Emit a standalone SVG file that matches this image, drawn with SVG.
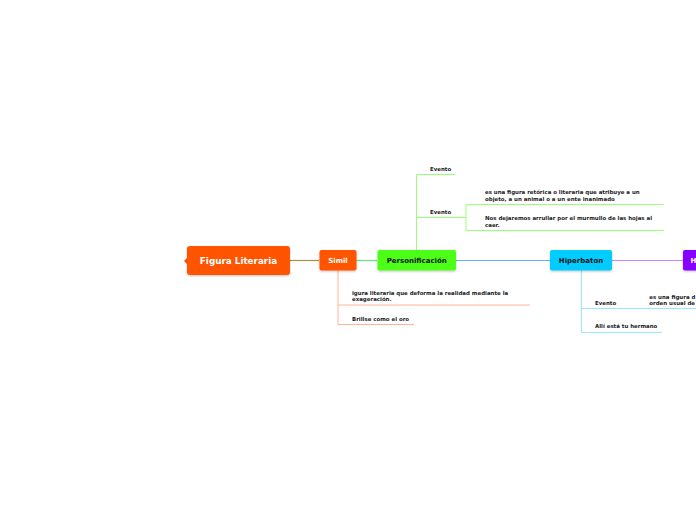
<svg xmlns="http://www.w3.org/2000/svg" width="696" height="520" viewBox="0 0 696 520">
<defs>
<filter id="sh" x="-20%" y="-30%" width="140%" height="160%">
<feDropShadow dx="0" dy="1" stdDeviation="1" flood-color="#000" flood-opacity="0.25"/>
</filter>
<style>
.n{filter:url(#sh)}
.t{font-family:"DejaVu Sans",Verdana,sans-serif;font-weight:bold}
.s{font-size:5.45px;fill:#222}
.ln{fill:none;stroke-width:1}
</style>
</defs>
<rect width="696" height="520" fill="#fff"/>
<g id="connectors">
<line x1="290" y1="260.5" x2="319" y2="260.5" stroke="#A88C46" stroke-width="1.2"/>
<line x1="356" y1="260.5" x2="377" y2="260.5" stroke="#66DD88" stroke-width="1.2"/>
<line x1="456" y1="260.5" x2="550" y2="260.5" stroke="#6AB0FF" stroke-width="1.2"/>
<line x1="612" y1="260.5" x2="683" y2="260.5" stroke="#C58AFF" stroke-width="1.2"/>
<polyline class="ln" stroke="#FFB496" points="338,270 338,324.5 414,324.5"/>
<line x1="338" y1="305" x2="530" y2="305" stroke="#FFB496"/>
<polyline class="ln" stroke="#99FF77" points="455,174.5 416.5,174.5 416.5,250"/>
<line x1="416.5" y1="217.5" x2="466" y2="217.5" stroke="#99FF77"/>
<polyline class="ln" stroke="#99FF77" points="664,204.5 466,204.5 466,230.5 664,230.5"/>
<polyline class="ln" stroke="#99E6FF" points="581.5,270 581.5,332.5 662,332.5"/>
<line x1="581.5" y1="308.5" x2="696" y2="308.5" stroke="#99E6FF"/>
</g>
<g id="figura-literaria">
<polygon points="184,261 187.5,257.5 187.5,264.5" fill="#FF5500"/>
<rect class="n" x="187" y="246" width="103" height="29" rx="3" fill="#FF5500"/>
<text class="t" x="238.5" y="264.1" font-size="8.8" fill="#fff" text-anchor="middle">Figura Literaria</text>
</g>
<g id="simil">
<rect class="n" x="319.5" y="250" width="37" height="20.5" rx="2" fill="#FF5500"/>
<text class="t" x="338" y="262.8" font-size="7" fill="#fff" text-anchor="middle">Simil</text>
</g>
<g id="personificacion">
<rect class="n" x="377.5" y="250" width="78.5" height="20.5" rx="2" fill="#4CFF14"/>
<text class="t" x="416.7" y="262.8" font-size="7" fill="#111" text-anchor="middle">Personificación</text>
</g>
<g id="hiperbaton">
<rect class="n" x="550" y="250" width="62" height="20.5" rx="2" fill="#00CCFF"/>
<text class="t" x="581" y="262.8" font-size="7" fill="#111" text-anchor="middle">Hiperbaton</text>
</g>
<g id="hiperbole">
<rect class="n" x="683" y="250" width="40" height="20.5" rx="2" fill="#8800FF"/>
<text class="t" x="690.5" y="262.8" font-size="7" fill="#fff">H</text>
</g>
<g id="simil-def">
<text class="t s" x="352" y="295.2">igura literaria que deforma la realidad mediante la</text>
<text class="t s" x="352" y="301.2">exageración.</text>
</g>
<g id="simil-ej">
<text class="t s" x="352" y="320.6">Brillse como el oro</text>
</g>
<g id="pers-evento1">
<text class="t s" x="430" y="170.9">Evento</text>
</g>
<g id="pers-evento2">
<text class="t s" x="430" y="213.9">Evento</text>
</g>
<g id="pers-def">
<text class="t s" x="485" y="193.9">es una figura retórica o literaria que atribuye a un</text>
<text class="t s" x="485" y="201.2">objeto, a un animal o a un ente inanimado</text>
</g>
<g id="pers-ej">
<text class="t s" x="485" y="219.9">Nos dejaremos arrullar por el murmullo de las hojas al</text>
<text class="t s" x="485" y="227.2">caer.</text>
</g>
<g id="hip-evento">
<text class="t s" x="595" y="304.6">Evento</text>
</g>
<g id="hip-def">
<text class="t s" x="649.3" y="298.6">es una figura d</text>
<text class="t s" x="649.3" y="304.6">orden usual de</text>
</g>
<g id="hip-ej">
<text class="t s" x="595" y="327.9">Allí está tu hermano</text>
</g>
</svg>
